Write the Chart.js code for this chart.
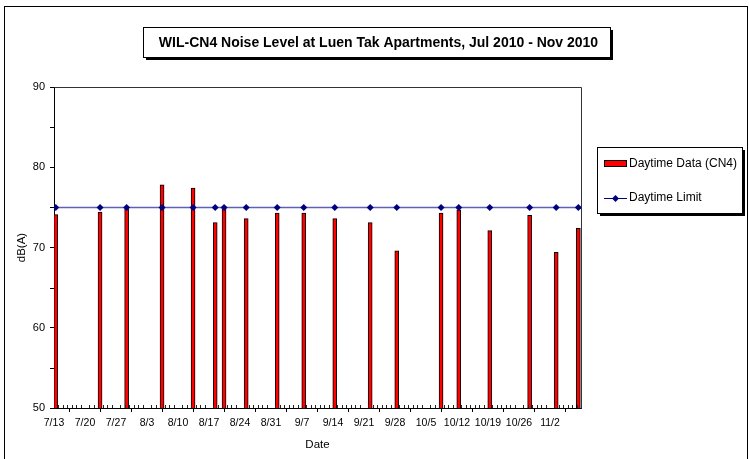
<!DOCTYPE html>
<html>
<head>
<meta charset="utf-8">
<script src="https://cdn.jsdelivr.net/npm/chart.js@4.4.0/dist/chart.umd.min.js"></script>
<style>
  html, body { margin: 0; padding: 0; background: #fff; }
  #wrap { width: 749px; height: 459px; position: relative; }
</style>
</head>
<body>
<div id="wrap"><canvas id="c" width="749" height="459"></canvas></div>
<script>
// ---- Data ----
const chartTitle = 'WIL-CN4 Noise Level at Luen Tak Apartments, Jul 2010 - Nov 2010';
const sampleDates = ['2010-07-13','2010-07-23','2010-07-29','2010-08-06','2010-08-13','2010-08-18','2010-08-20',
  '2010-08-25','2010-09-01','2010-09-07','2010-09-14','2010-09-22','2010-09-28','2010-10-08','2010-10-12',
  '2010-10-19','2010-10-28','2010-11-03','2010-11-08'];
const daytimeData = [74.1, 74.4, 74.8, 77.8, 77.4, 73.1, 74.9, 73.6, 74.3, 74.3, 73.6, 73.1, 69.6, 74.3, 74.7, 72.1, 74.0, 69.4, 72.4];
const daytimeLimit = [75, 75, 75, 75, 75, 75, 75, 75, 75, 75, 75, 75, 75, 75, 75, 75, 75, 75, 75];
const axisStart = '2010-07-13';
const axisEnd = '2010-11-09';
const yTicks = [50, 60, 70, 80, 90];
const seriesNames = ['Daytime Data (CN4)', 'Daytime Limit'];

const DAY = 86400000;
const p0 = axisStart.split('-');
const t0 = Date.UTC(+p0[0], +p0[1]-1, +p0[2]);
function dayIndex(s) { const p = s.split('-'); return Math.round((Date.UTC(+p[0], +p[1]-1, +p[2]) - t0) / DAY); }
function dayLabel(d) { const dt = new Date(t0 + d * DAY); return (dt.getUTCMonth()+1) + '/' + dt.getUTCDate(); }
const xMax = dayIndex(axisEnd);
const BAR_OFF = 0.4; // bars sit just after the date mark, as in the reference

const barPts = sampleDates.map((d, i) => ({ x: dayIndex(d) + BAR_OFF, y: daytimeData[i] }));
const limPts = sampleDates.map((d, i) => ({ x: dayIndex(d) + BAR_OFF, y: daytimeLimit[i] }));

const FONT = '"Liberation Sans", Arial, sans-serif';

const decor = {
  id: 'decor',
  beforeDraw(chart) {
    const ctx = chart.ctx;
    ctx.save();
    ctx.fillStyle = '#fff';
    ctx.fillRect(0, 0, chart.width, chart.height);
    ctx.restore();
  },
  afterDraw(chart) {
    const ctx = chart.ctx, a = chart.chartArea;
    const xs = chart.scales.x, ys = chart.scales.y;
    ctx.save();
    // outer frame
    ctx.strokeStyle = '#000'; ctx.lineWidth = 1;
    ctx.strokeRect(4.5, 6.5, 743, 470);
    // plot area top & right border
    ctx.strokeStyle = '#333';
    ctx.beginPath();
    ctx.moveTo(Math.round(a.left) + 0.5, Math.round(a.top) + 0.5);
    ctx.lineTo(Math.round(a.right) + 0.5, Math.round(a.top) + 0.5);
    ctx.lineTo(Math.round(a.right) + 0.5, Math.round(a.bottom) + 0.5);
    ctx.stroke();
    // daily minor ticks on x axis (pointing up)
    ctx.strokeStyle = '#222';
    ctx.beginPath();
    for (let d = 1; d < xMax; d++) {
      if (d % 7 === 0) continue;
      const px = Math.round(xs.getPixelForValue(d)) + 0.5;
      ctx.moveTo(px, a.bottom); ctx.lineTo(px, a.bottom - 3);
    }
    ctx.stroke();
    // minor y ticks (outside, like the major ones)
    ctx.strokeStyle = '#000';
    ctx.beginPath();
    for (let v = 55; v < 90; v += 10) {
      const py = Math.round(ys.getPixelForValue(v)) + 0.5;
      ctx.moveTo(a.left - 4, py); ctx.lineTo(a.left, py);
    }
    ctx.stroke();

    // title box with shadow
    const bx = 143, by = 27, bw = 467, bh = 30;
    ctx.fillStyle = '#000';
    ctx.fillRect(bx + 3, by + 3, bw, bh);
    ctx.fillStyle = '#fff';
    ctx.fillRect(bx, by, bw, bh);
    ctx.strokeStyle = '#000';
    ctx.strokeRect(bx + 0.5, by + 0.5, bw, bh);
    ctx.fillStyle = '#000';
    ctx.font = 'bold 14px ' + FONT;
    ctx.textAlign = 'center'; ctx.textBaseline = 'middle';
    ctx.fillText(chartTitle, bx + bw / 2 + 2, by + bh / 2 + 1);

    // legend box with shadow
    const lx = 597, ly = 147, lw = 145, lh = 66;
    ctx.fillStyle = '#000';
    ctx.fillRect(lx + 3, ly + 3, lw, lh);
    ctx.fillStyle = '#fff';
    ctx.fillRect(lx, ly, lw, lh);
    ctx.strokeStyle = '#000';
    ctx.strokeRect(lx + 0.5, ly + 0.5, lw, lh);
    // item 1: bar swatch
    ctx.fillStyle = '#FF0000';
    ctx.fillRect(604, 161, 23, 5);
    ctx.strokeStyle = '#000';
    ctx.strokeRect(604.5, 160.5, 22, 6);
    ctx.fillStyle = '#000';
    ctx.font = '12px ' + FONT;
    ctx.textAlign = 'left'; ctx.textBaseline = 'middle';
    ctx.fillText(seriesNames[0], 629, 164);
    // item 2: line + diamond
    ctx.strokeStyle = '#000080'; ctx.lineWidth = 1;
    ctx.beginPath(); ctx.moveTo(604, 198.5); ctx.lineTo(627, 198.5); ctx.stroke();
    ctx.fillStyle = '#000080';
    ctx.beginPath();
    ctx.moveTo(615.5, 195); ctx.lineTo(619, 198.5); ctx.lineTo(615.5, 202); ctx.lineTo(612, 198.5);
    ctx.closePath(); ctx.fill();
    ctx.fillStyle = '#000';
    ctx.fillText(seriesNames[1], 629, 198);
    ctx.restore();
  }
};

new Chart(document.getElementById('c'), {
  type: 'bar',
  data: {
    datasets: [
      {
        type: 'line',
        label: seriesNames[1],
        data: limPts,
        borderColor: '#6060B4',
        borderWidth: 1.5,
        pointStyle: 'rectRot',
        pointRadius: 3.5,
        pointBackgroundColor: '#000080',
        pointBorderColor: '#000080',
        pointBorderWidth: 0,
        tension: 0,
        order: 0
      },
      {
        type: 'bar',
        label: seriesNames[0],
        data: barPts,
        backgroundColor: '#FF0000',
        borderColor: '#000',
        borderWidth: 1,
        barThickness: 4,
        order: 1
      }
    ]
  },
  options: {
    responsive: false,
    animation: false,
    events: [],
    layout: { padding: { top: 87, right: 168, bottom: 0, left: 0 } },
    plugins: { legend: { display: false }, title: { display: false }, tooltip: { enabled: false } },
    scales: {
      x: {
        type: 'linear',
        min: 0, max: xMax,
        offset: false,
        afterBuildTicks(scale) {
          const t = [];
          for (let d = 0; d <= xMax; d += 7) t.push({ value: d });
          if (t[t.length - 1].value !== xMax) t.push({ value: xMax });
          scale.ticks = t;
        },
        afterFit(scale) { scale.height = 51; },
        ticks: {
          autoSkip: false, maxRotation: 0, padding: 5,
          color: '#000', font: { family: FONT, size: 10.5 },
          callback(v) { return v === xMax ? '' : dayLabel(v); }
        },
        grid: { drawOnChartArea: false, drawTicks: true, tickLength: 4, color: '#000' },
        border: { display: true, color: '#000', width: 1 },
        title: { display: true, text: 'Date', color: '#000', font: { family: FONT, size: 11.5 }, padding: { top: 0, bottom: 7 } }
      },
      y: {
        min: 50, max: 90,
        afterBuildTicks(scale) { scale.ticks = yTicks.map(v => ({ value: v })); },
        afterFit(scale) { scale.width = 54; },
        ticks: { color: '#000', font: { family: FONT, size: 11 }, padding: 5 },
        grid: { drawOnChartArea: false, drawTicks: true, tickLength: 4, color: '#000' },
        border: { display: true, color: '#000', width: 1 },
        title: { display: true, text: 'dB(A)', color: '#000', font: { family: FONT, size: 11.5 }, padding: { top: 15, bottom: 0 } }
      }
    }
  },
  plugins: [decor]
});
</script>
</body>
</html>
